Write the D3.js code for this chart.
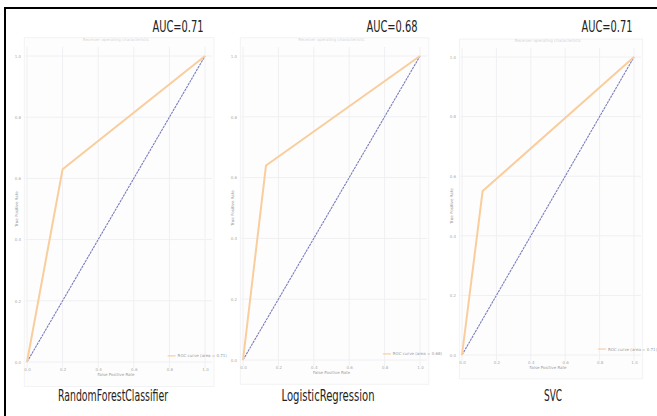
<!DOCTYPE html>
<html>
<head>
<meta charset="utf-8">
<script src="https://cdn.jsdelivr.net/npm/d3@7"></script>
<style>
  body { margin: 0; background: #fff; }
  svg { display: block; }
  .big { font-family: "Liberation Sans Narrow", "DejaVu Sans Condensed", sans-serif; fill: #222; font-weight: normal; }
  .tiny { font-family: "DejaVu Sans", sans-serif; fill: #999; }
</style>
</head>
<body>
<svg width="657" height="416"></svg>
<script>
// data
var models = ["RandomForestClassifier", "LogisticRegression", "SVC"];
var aucLabels = ["AUC=0.71", "AUC=0.68", "AUC=0.71"];
var legendLabels = ["ROC curve (area = 0.71)", "ROC curve (area = 0.68)", "ROC curve (area = 0.71)"];
var rocFpr = [[0, 0.2, 1], [0, 0.13, 1], [0, 0.12, 1]];
var rocTpr = [[0, 0.63, 1], [0, 0.64, 1], [0, 0.55, 1]];
var chanceLine = [0, 1];
var tickValues = [0, 0.2, 0.4, 0.6, 0.8, 1.0];

// panel geometry (pixel corners of the 0..1 box)
var panels = [
  {x0: 27, x1: 205, y0: 362, y1: 56, cx: 113, auc: 178},
  {x0: 243, x1: 420, y0: 360, y1: 56, cx: 328, auc: 392},
  {x0: 462, x1: 634, y0: 355, y1: 57, cx: 553, auc: 607}
];
var titleWidth = [110, 93, 18];

var svg = d3.select("svg");

// outer frame, left and top edges
svg.append("line").attr("x1", 5).attr("y1", 8).attr("x2", 657).attr("y2", 8)
   .style("stroke", "#000").style("stroke-width", 2);
svg.append("line").attr("x1", 5).attr("y1", 7).attr("x2", 5).attr("y2", 416)
   .style("stroke", "#000").style("stroke-width", 2);

panels.forEach(function(p, i) {
  var g = svg.append("g");

  var x = d3.scaleLinear().domain([0, 1]).range([p.x0, p.x1]);
  var y = d3.scaleLinear().domain([0, 1]).range([p.y0, p.y1]);

  // faint plot background
  g.append("rect")
   .attr("x", x(-0.015)).attr("y", y(1.06))
   .attr("width", x(1.05) - x(-0.015)).attr("height", y(-0.08) - y(1.06))
   .style("fill", "#fdfdfe").style("stroke", "#f3f3f5");

  // grid
  g.selectAll("line.gx").data(tickValues).enter().append("line")
   .attr("x1", function(d) { return x(d); }).attr("x2", function(d) { return x(d); })
   .attr("y1", y(1.03)).attr("y2", y(-0.02))
   .style("stroke", "#f0f0f3").style("stroke-width", 1);
  g.selectAll("line.gy").data(tickValues).enter().append("line")
   .attr("y1", function(d) { return y(d); }).attr("y2", function(d) { return y(d); })
   .attr("x1", x(-0.01)).attr("x2", x(1.04))
   .style("stroke", "#f0f0f3").style("stroke-width", 1);

  // tiny axes, no domain line
  var xAxis = g.append("g").attr("transform", "translate(0," + (p.y0 + 3) + ")")
               .call(d3.axisBottom(x).tickValues(tickValues).tickSize(0).tickFormat(d3.format(".1f")));
  var yAxis = g.append("g").attr("transform", "translate(" + (p.x0 - 3) + ",0)")
               .call(d3.axisLeft(y).tickValues(tickValues).tickSize(0).tickFormat(d3.format(".1f")));
  [xAxis, yAxis].forEach(function(a) {
    a.select(".domain").remove();
    a.selectAll("text").attr("class", "tiny").style("font-size", "4px").style("fill", "#aaa");
  });

  g.append("text").attr("class", "tiny")
   .attr("x", x(0.5)).attr("y", p.y0 + 14)
   .attr("text-anchor", "middle").style("font-size", "4px")
   .text("False Positive Rate");
  g.append("text").attr("class", "tiny")
   .attr("transform", "translate(" + (p.x0 - 9) + "," + y(0.5) + ") rotate(-90)")
   .attr("text-anchor", "middle").style("font-size", "4px")
   .text("True Positive Rate");
  g.append("text").attr("class", "tiny")
   .attr("x", x(0.5)).attr("y", y(1.05))
   .attr("text-anchor", "middle").style("font-size", "4px").style("fill", "#d5d5d5")
   .text("Receiver operating characteristic");

  var line = d3.line()
               .x(function(d) { return x(d[0]); })
               .y(function(d) { return y(d[1]); });

  // chance diagonal
  g.append("path")
   .datum(chanceLine.map(function(v) { return [v, v]; }))
   .attr("d", line)
   .style("fill", "none").style("stroke", "#7a7dbc")
   .style("stroke-width", 1.1).style("stroke-dasharray", "2.5,0.8");

  // roc curve
  var pts = rocFpr[i].map(function(f, j) { return [f, rocTpr[i][j]]; });
  g.append("path")
   .datum(pts)
   .attr("d", line)
   .style("fill", "none").style("stroke", "#f9cd9c")
   .style("stroke-width", 2);

  // legend
  var ly = y(0.02);
  var lx = x(0.79);
  g.append("line").attr("x1", lx).attr("x2", lx + 8).attr("y1", ly).attr("y2", ly)
   .style("stroke", "#f9cd9c").style("stroke-width", 1.2);
  g.append("text").attr("class", "tiny")
   .attr("x", lx + 10).attr("y", ly + 1.5).style("font-size", "4px").style("fill", "#999")
   .text(legendLabels[i]);

  // AUC label
  g.append("text").attr("class", "big")
   .attr("x", p.auc).attr("y", 32).attr("text-anchor", "middle")
   .style("font-size", "15px")
   .attr("textLength", 51).attr("lengthAdjust", "spacingAndGlyphs")
   .text(aucLabels[i]);

  // model name
  g.append("text").attr("class", "big")
   .attr("x", p.cx).attr("y", 401).attr("text-anchor", "middle")
   .style("font-size", "16px")
   .attr("textLength", titleWidth[i]).attr("lengthAdjust", "spacingAndGlyphs")
   .text(models[i]);
});
</script>
</body>
</html>
